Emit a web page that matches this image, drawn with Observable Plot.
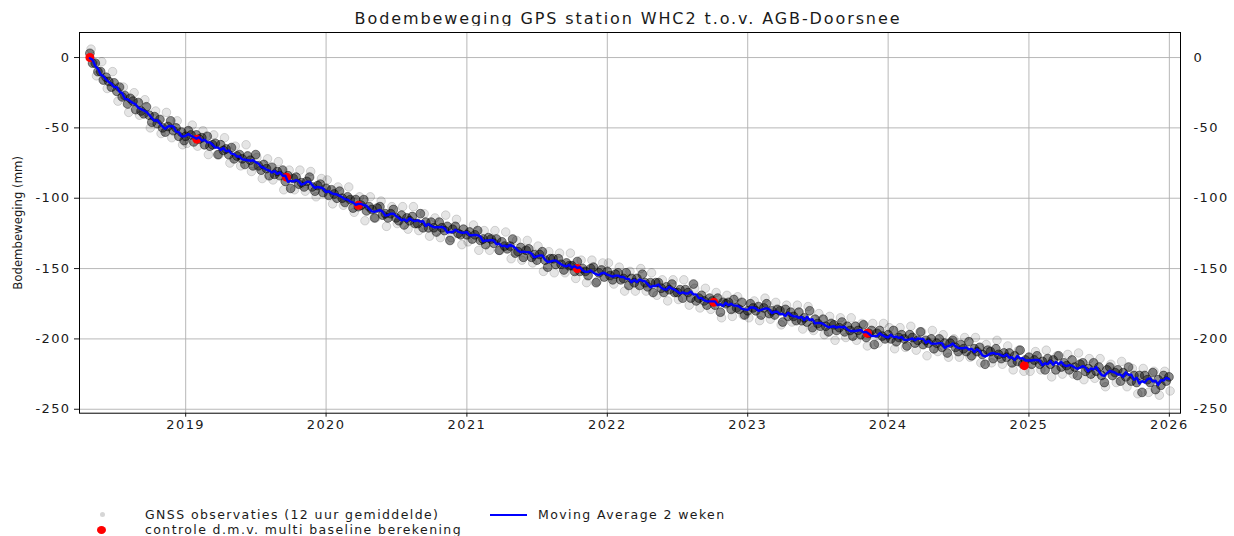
<!DOCTYPE html>
<html><head><meta charset="utf-8">
<script src="https://cdn.jsdelivr.net/npm/d3@7"></script>
<script src="https://cdn.jsdelivr.net/npm/@observablehq/plot@0.6"></script>
<style>
body{margin:0;background:#fff;width:1234px;height:536px;position:relative;overflow:hidden;font-family:"DejaVu Sans",sans-serif;color:#1a1a1a;}
#title{position:absolute;left:628px;top:11px;transform:translateX(-50%);font-size:16px;line-height:16px;letter-spacing:1.9px;white-space:nowrap;}
#chart{position:absolute;left:0;top:26px;}
.leg{position:absolute;font-size:12.5px;line-height:14px;letter-spacing:1.4px;white-space:nowrap;}
.sym{position:absolute;}
g[aria-label="y-axis label"] text{font-family:"Liberation Sans Narrow","DejaVu Sans Condensed",sans-serif;font-stretch:condensed;font-size:13px;letter-spacing:0;}
</style></head>
<body>
<div id="title">Bodembeweging GPS station WHC2 t.o.v. AGB-Doorsnee</div>
<div id="chart"></div>
<div class="sym" style="left:100px;top:512px;width:5px;height:5px;border-radius:50%;background:#d6d6d6;"></div>
<div class="leg" style="left:145px;top:508px;">GNSS observaties (12 uur gemiddelde)</div>
<div class="sym" style="left:97px;top:526px;width:9px;height:8px;border-radius:50%;background:#ff0000;"></div>
<div class="leg" style="left:145px;top:523px;">controle d.m.v. multi baseline berekening</div>
<div class="sym" style="left:490px;top:514px;width:37px;height:2px;background:#0000ff;"></div>
<div class="leg" style="left:538px;top:508px;">Moving Average 2 weken</div>
<script>
const obs2018start = "2018-04-27";
const obs2018 = [3,-4,-4,-10,-10,-16,-14,-17,-21,-18,-24,-21,-28,-27,-33,-29,-31,-37,-32,-38,-40,-35,-41,-46,-42,-47,-44,-50,-53,-49,-45,-52,-50,-56,-53,-59];
const obs2019 = [-56,-52,-55,-60,-55,-58,-57,-62,-56,-63,-62,-61,-69,-62,-66,-65,-69,-64,-72,-70,-69,-72,-76,-70,-73,-77,-69,-77,-80,-76,-79,-84,-78,-83,-81,-84,-80,-88,-84,-93,-86,-85,-90,-89,-92,-88,-85,-92,-95,-91,-90,-96];
const obs2020 = [-93,-98,-94,-97,-100,-95,-100,-103,-99,-101,-107,-101,-106,-105,-101,-109,-106,-108,-114,-107,-106,-112,-111,-114,-111,-108,-114,-116,-112,-119,-114,-116,-113,-118,-118,-111,-121,-117,-121,-117,-121,-124,-117,-121,-123,-120,-130,-122,-120,-125,-126,-122];
const obs2021 = [-126,-124,-129,-126,-123,-130,-129,-133,-128,-129,-132,-129,-137,-131,-134,-136,-134,-129,-139,-138,-135,-142,-137,-136,-142,-140,-144,-140,-138,-144,-149,-143,-143,-147,-143,-147,-151,-146,-148,-148,-152,-145,-152,-150,-152,-155,-150,-149,-160,-153,-151,-156];
const obs2022 = [-152,-155,-158,-154,-153,-158,-157,-153,-162,-157,-160,-157,-162,-154,-160,-163,-160,-167,-160,-160,-164,-167,-163,-165,-161,-167,-167,-165,-171,-165,-167,-171,-161,-173,-171,-169,-173,-176,-171,-173,-176,-171,-181,-174,-175,-174,-179,-172,-178,-179,-174,-183];
const obs2023 = [-180,-175,-178,-180,-177,-183,-178,-175,-182,-180,-183,-179,-180,-188,-179,-184,-181,-184,-187,-181,-187,-185,-188,-180,-192,-186,-189,-191,-186,-191,-195,-189,-190,-194,-192,-188,-195,-191,-194,-198,-191,-194,-197,-190,-199,-196,-194,-204,-196,-194,-198,-200];
const obs2024 = [-197,-200,-194,-202,-199,-197,-200,-205,-197,-199,-203,-201,-195,-204,-201,-203,-200,-207,-203,-200,-206,-203,-210,-203,-201,-206,-209,-204,-207,-209,-202,-212,-207,-209,-206,-211,-218,-208,-209,-214,-207,-211,-214,-210,-213,-210,-217,-212,-216,-208,-218,-215];
const obs2025 = [-213,-218,-215,-212,-218,-216,-222,-214,-218,-215,-222,-212,-220,-217,-219,-222,-215,-220,-226,-218,-217,-223,-221,-225,-217,-223,-220,-226,-231,-222,-220,-226,-224,-222,-230,-224,-227,-220,-230,-226,-231,-226,-238,-226,-229,-231,-224,-236,-229,-233,-226,-230,-227];

// scattered outlying observations (mm), one value per two weeks
const far2018start = "2018-04-30";
const far2018 = [6,-13,-3,-22,-10,-31,-21,-39,-25,-41,-30,-50,-38,-54,-39,-57,-45,-62];
const far2019 = [-61,-48,-63,-52,-69,-55,-69,-57,-75,-63,-77,-62,-81,-71,-86,-72,-87,-74,-94,-80,-94,-80,-95,-81,-99,-86];
const far2020 = [-87,-104,-92,-105,-92,-110,-99,-116,-99,-114,-102,-120,-106,-118,-106,-122,-106,-123,-111,-127,-114,-128,-112,-128,-115,-133];
const far2021 = [-131,-119,-137,-123,-137,-123,-137,-124,-143,-130,-144,-130,-146,-134,-152,-138,-153,-139,-153,-139,-157,-144,-160,-144,-159,-146];
const far2022 = [-146,-161,-149,-166,-152,-166,-150,-166,-153,-169,-158,-173,-158,-172,-158,-176,-164,-178,-164,-179,-167,-185,-169,-184,-170,-183];
const far2023 = [-185,-173,-187,-171,-186,-174,-190,-176,-188,-176,-193,-177,-194,-182,-197,-184,-201,-185,-199,-185,-201,-189,-205,-189,-203,-189];
const far2024 = [-192,-207,-192,-206,-191,-208,-195,-212,-194,-209,-197,-213,-200,-213,-199,-213,-199,-217,-204,-217,-201,-218,-205,-222,-208,-223];
const far2025 = [-223,-209,-222,-208,-227,-212,-225,-211,-225,-210,-229,-214,-228,-214,-234,-218,-231,-216,-234,-221,-239,-221,-238,-223,-240,-223,-237];

// control measurements (multi baseline)
const controlDates = ["2018-04-27","2019-01-30","2019-09-20","2020-03-25","2021-10-15","2022-10-05","2023-11-08","2024-12-20"];
const controlValues = [0,-58,-85,-105,-150,-174,-196,-219];

// axes
const xTickYears = [2019,2020,2021,2022,2023,2024,2025,2026];
const yTicks = [0,-50,-100,-150,-200,-250];
const xDomain = ["2018-03-31","2026-01-30"];
const yDomain = [-252.8, 17.8];

const parse = d3.utcParse("%Y-%m-%d");
function series(start, vals, days){
  const d0 = parse(start);
  return vals.map((v,i)=>({date: d3.utcDay.offset(d0, days*i), value: v}));
}
const obs = [
  ...series(obs2018start, obs2018, 7),
  ...series("2019-01-01", obs2019, 7),
  ...series("2020-01-01", obs2020, 7),
  ...series("2021-01-01", obs2021, 7),
  ...series("2022-01-01", obs2022, 7),
  ...series("2023-01-01", obs2023, 7),
  ...series("2024-01-01", obs2024, 7),
  ...series("2025-01-01", obs2025, 7)
];
const far = [
  ...series(far2018start, far2018, 14),
  ...series("2019-01-04", far2019, 14),
  ...series("2020-01-04", far2020, 14),
  ...series("2021-01-04", far2021, 14),
  ...series("2022-01-04", far2022, 14),
  ...series("2023-01-04", far2023, 14),
  ...series("2024-01-04", far2024, 14),
  ...series("2025-01-04", far2025, 14)
];
const control = controlDates.map((d,i)=>({date: parse(d), value: controlValues[i]}));
const xTicks = xTickYears.map(y => new Date(Date.UTC(y,0,1)));
const fmt = d => String(d);

const chart = Plot.plot({
  width: 1234, height: 419,
  marginLeft: 79, marginRight: 54, marginTop: 6, marginBottom: 32.3,
  style: {fontFamily: "DejaVu Sans", fontSize: "13px", color: "#1a1a1a", background: "#fff", letterSpacing: "1.4px", overflow: "visible"},
  x: {type: "utc", domain: xDomain.map(parse)},
  y: {domain: yDomain},
  marks: [
    Plot.gridX(xTicks, {stroke: "#b0b0b0", strokeOpacity: 1, strokeWidth: 0.9}),
    Plot.gridY(yTicks, {stroke: "#b0b0b0", strokeOpacity: 1, strokeWidth: 0.9}),
    Plot.dot(far, {x: "date", y: "value", r: 4.3, fill: "#000", fillOpacity: 0.1, stroke: "#000", strokeOpacity: 0.18, strokeWidth: 0.8}),
    Plot.dot(obs, {x: "date", y: "value", r: 4.4, fill: "#000", fillOpacity: 0.45, stroke: "#000", strokeOpacity: 0.55, strokeWidth: 0.8}),
    Plot.dot(control, {x: "date", y: "value", r: 4.5, fill: "#ff0000", stroke: "none"}),
    Plot.lineY(obs, Plot.windowY({k: 3, anchor: "middle"}, {x: "date", y: "value", stroke: "#0000ff", strokeWidth: 2.4})),
    Plot.frame({stroke: "#000", strokeWidth: 1}),
    Plot.axisX(xTicks, {tickFormat: "%Y", tickSize: 4, tickPadding: 3, label: null}),
    Plot.axisY(yTicks, {anchor: "left", tickSize: 5, tickPadding: 4, tickFormat: fmt, label: "Bodembeweging (mm)", labelAnchor: "center", labelArrow: "none", labelOffset: 67}),
    Plot.axisY(yTicks, {anchor: "right", tickSize: 0, tickPadding: 13, tickFormat: fmt, label: null})
  ]
});
document.getElementById("chart").appendChild(chart);
</script>
</body></html>
